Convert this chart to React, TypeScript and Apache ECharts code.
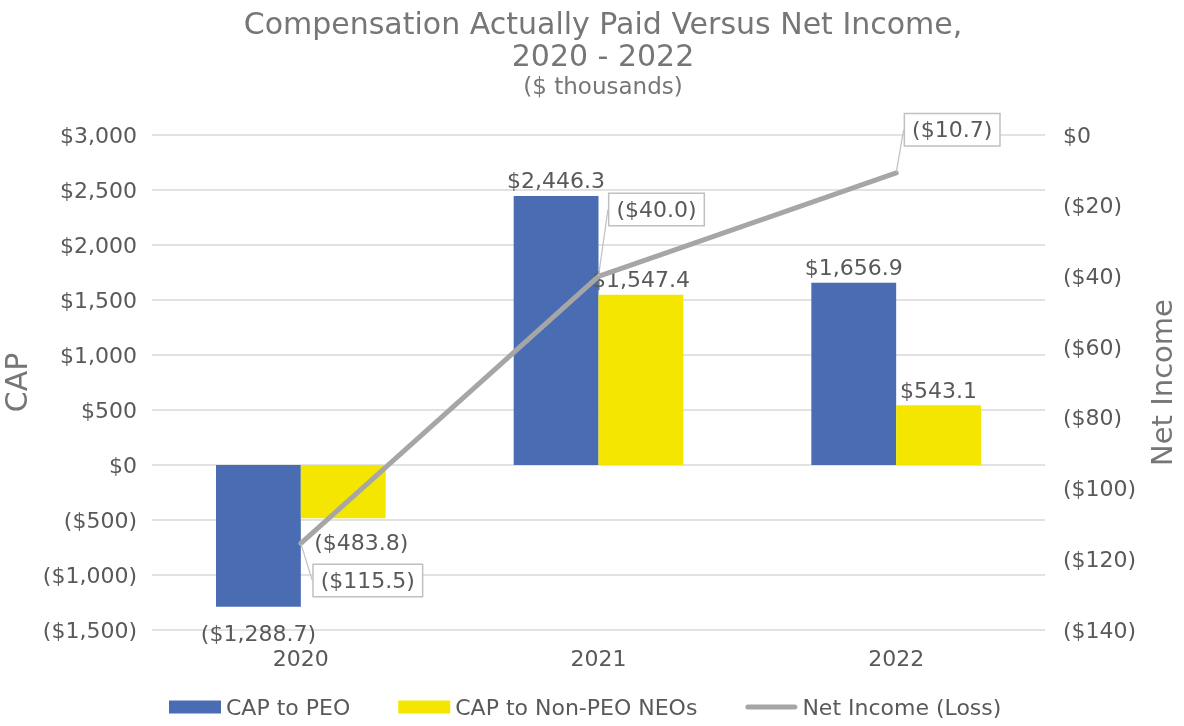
import React, { useEffect, useRef } from "react";
import * as echarts from "echarts";

const years = ["2020", "2021", "2022"];
const capPEO = [-1288.7, 2446.3, 1656.9];
const capNonPEO = [-483.8, 1547.4, 543.1];
const netIncome = [-115.5, -40.0, -10.7];

const leftTicks = { min: -1500, max: 3000, interval: 500 };
const rightTicks = { min: -140, max: 0, interval: 20 };

// label styling nudges (pixels)
const calloutOffsets = [
  [67, 37],
  [58, -67],
  [56, -43],
];
const peoLabelOffsets = [
  [0, 12],
  [0, 0],
  [0, 0],
];
const nonPeoLabelOffsets = [
  [18, 9],
  [0, 0],
  [0, 0],
];

const fmt = (v: number, decimals: number) => {
  const s =
    "$" +
    Math.abs(v).toLocaleString("en-US", {
      minimumFractionDigits: decimals,
      maximumFractionDigits: decimals,
    });
  return v < 0 ? "(" + s + ")" : s;
};

const TEXT = "#595959";
const TITLE = "#767676";
const FONT = "DejaVu Sans, sans-serif";
const FS = 22;

export default function App() {
  const ref = useRef<HTMLDivElement>(null);
  useEffect(() => {
    if (!ref.current) return;
    const chart = echarts.init(ref.current, null, { renderer: "svg" });
    const barData = (arr: number[], offs: number[][]) =>
      arr.map((v, i) => ({
        value: v,
        label: { position: v < 0 ? "bottom" : "top", offset: offs[i] },
      }));
    const barLabel = {
      show: true,
      fontSize: FS,
      color: TEXT,
      fontFamily: FONT,
      distance: 4,
      formatter: (p: any) => fmt(p.value, 1),
    };
    chart.setOption({
      animation: false,
      textStyle: { fontFamily: FONT },
      title: {
        text: "Compensation Actually Paid Versus Net Income,\n2020 - 2022",
        subtext: "($ thousands)",
        left: 598,
        textAlign: "center",
        top: 2,
        itemGap: 3,
        textStyle: {
          fontFamily: FONT,
          fontSize: 30,
          fontWeight: "normal",
          color: TITLE,
          lineHeight: 32,
        },
        subtextStyle: {
          fontFamily: FONT,
          fontSize: 23,
          color: TITLE,
        },
      },
      legend: {
        bottom: 3,
        left: 164,
        itemWidth: 52,
        itemHeight: 13,
        itemGap: 48,
        textStyle: { fontFamily: FONT, fontSize: FS, color: TEXT },
        data: [
          { name: "CAP to PEO", icon: "rect" },
          { name: "CAP to Non-PEO NEOs", icon: "rect" },
          {
            name: "Net Income (Loss)",
            icon: "path://M2.5,0 L49.5,0 A2.5,2.5 0 0 1 49.5,5 L2.5,5 A2.5,2.5 0 0 1 2.5,0 Z",
          },
        ],
      },
      grid: {
        left: 152,
        right: 139,
        top: 135,
        bottom: 96,
        containLabel: false,
        outerBoundsMode: "none",
      },
      xAxis: {
        type: "category",
        data: years,
        axisLine: { onZero: false, show: false },
        axisTick: { show: false },
        axisLabel: { fontSize: FS, color: TEXT, margin: 17, fontFamily: FONT },
      },
      yAxis: [
        {
          type: "value",
          ...leftTicks,
          name: "CAP",
          nameLocation: "middle",
          nameGap: 117,
          nameTextStyle: { fontSize: 30, color: TITLE, fontFamily: FONT },
          axisLabel: {
            fontSize: FS,
            color: TEXT,
            margin: 15,
            fontFamily: FONT,
            formatter: (v: number) => fmt(v, 0),
          },
          splitLine: { lineStyle: { color: "#d9d9d9", width: 1.5 } },
          axisLine: { show: false },
          axisTick: { show: false },
        },
        {
          type: "value",
          ...rightTicks,
          name: "Net Income",
          nameLocation: "middle",
          nameGap: 100,
          nameRotate: 90,
          nameTextStyle: { fontSize: 29, color: TITLE, fontFamily: FONT },
          axisLabel: {
            fontSize: FS,
            color: TEXT,
            margin: 18,
            fontFamily: FONT,
            formatter: (v: number) => fmt(v, 0),
          },
          splitLine: { show: false },
          axisLine: { show: false },
          axisTick: { show: false },
        },
      ],
      series: [
        {
          name: "CAP to PEO",
          type: "bar",
          data: barData(capPEO, peoLabelOffsets),
          barGap: "0%",
          barCategoryGap: "43%",
          itemStyle: { color: "#4a6cb3" },
          label: barLabel,
        },
        {
          name: "CAP to Non-PEO NEOs",
          type: "bar",
          data: barData(capNonPEO, nonPeoLabelOffsets),
          itemStyle: { color: "#f4e600" },
          label: barLabel,
        },
        {
          name: "Net Income (Loss)",
          type: "line",
          yAxisIndex: 1,
          data: netIncome,
          symbol: "circle",
          symbolSize: 1,
          z: 5,
          itemStyle: { color: "#a6a6a6" },
          lineStyle: { color: "#a6a6a6", width: 5, cap: "round" },
          label: {
            show: true,
            position: "inside",
            fontSize: FS,
            color: TEXT,
            fontFamily: FONT,
            backgroundColor: "#ffffff",
            borderColor: "#c0c0c0",
            borderWidth: 1.5,
            padding: [5, 7, 4, 7],
            formatter: (p: any) => fmt(p.value, 1),
          },
          labelLine: {
            show: true,
            lineStyle: { color: "#c0c0c0", width: 1.2 },
          },
          labelLayout: (params: any) => {
            const o = calloutOffsets[params.dataIndex] || [0, 0];
            return { dx: o[0], dy: o[1] };
          },
        },
      ],
    });
    return () => chart.dispose();
  }, []);
  return (
    <div
      ref={ref}
      style={{ position: "fixed", left: 0, top: 0, width: 1184, height: 726 }}
    />
  );
}
